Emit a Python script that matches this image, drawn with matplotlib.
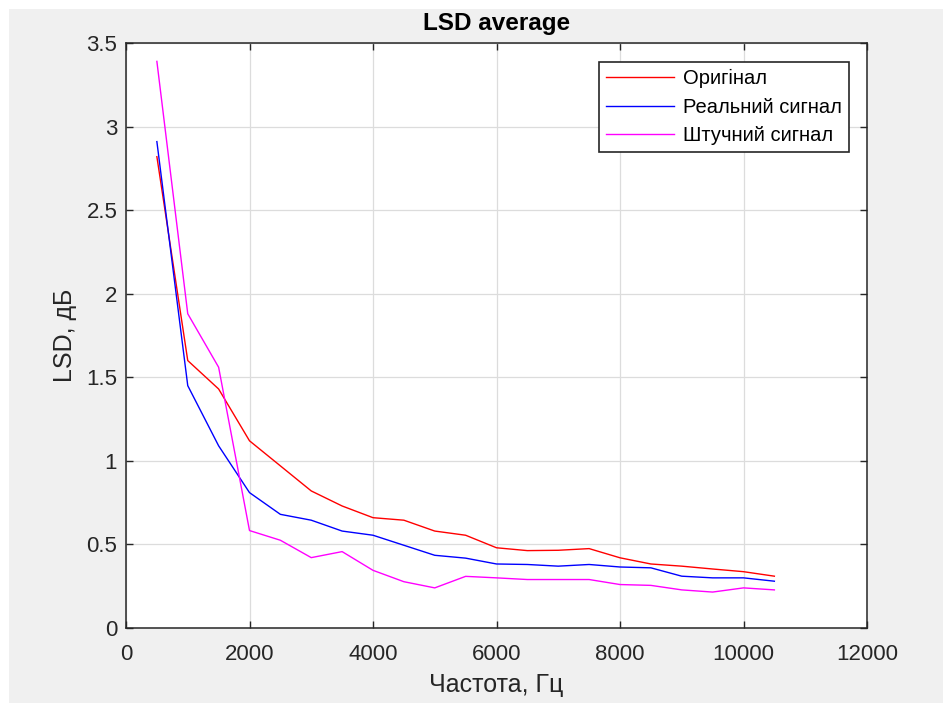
import matplotlib
matplotlib.use("Agg")
import matplotlib.pyplot as plt
from matplotlib.patches import Rectangle

plt.rcParams['font.family'] = ['Liberation Sans', 'DejaVu Sans']

# Frequency grid, Hz
freq = [500, 1000, 1500, 2000, 2500, 3000, 3500, 4000, 4500, 5000, 5500,
        6000, 6500, 7000, 7500, 8000, 8500, 9000, 9500, 10000, 10500]

# Average LSD, dB
lsd_original = [2.82, 1.60, 1.43, 1.12, 0.97, 0.82, 0.73, 0.66, 0.645, 0.58, 0.555,
                0.48, 0.463, 0.465, 0.475, 0.42, 0.383, 0.37, 0.353, 0.337, 0.31]
lsd_real = [2.91, 1.45, 1.09, 0.81, 0.68, 0.645, 0.58, 0.555, 0.495, 0.435, 0.418,
            0.383, 0.38, 0.37, 0.38, 0.365, 0.36, 0.31, 0.30, 0.30, 0.28]
lsd_synthetic = [3.39, 1.88, 1.56, 0.583, 0.525, 0.421, 0.457, 0.345, 0.277, 0.24, 0.309,
                 0.30, 0.29, 0.29, 0.29, 0.26, 0.255, 0.228, 0.215, 0.24, 0.228]

series_labels = ['Оригінал', 'Реальний сигнал', 'Штучний сигнал']
x_ticks = [0, 2000, 4000, 6000, 8000, 10000, 12000]
y_ticks = [0, 0.5, 1, 1.5, 2, 2.5, 3, 3.5]

W, H = 943, 703
fig = plt.figure(figsize=(W / 100, H / 100), dpi=100, facecolor='white')
# grey window background with a thin white strip on the left and top
fig.patches.append(Rectangle((9 / W, 0), 1, 1 - 9 / H, transform=fig.transFigure,
                             facecolor='#f0f0f0', edgecolor='none', zorder=-10))

ax_l, ax_r, ax_t, ax_b = 126, 867, 43, 628
ax = fig.add_axes([ax_l / W, 1 - ax_b / H, (ax_r - ax_l) / W, (ax_b - ax_t) / H])
ax.set_facecolor('white')

ax.plot(freq, lsd_original, color='#ff0000', lw=1.0, label=series_labels[0])
ax.plot(freq, lsd_real, color='#0000ff', lw=1.0, label=series_labels[1])
ax.plot(freq, lsd_synthetic, color='#ff00ff', lw=1.0, label=series_labels[2])

ax.set_xlim(0, 12000)
ax.set_ylim(0, 3.5)
ax.set_xticks(x_ticks)
ax.set_xticklabels([str(v) for v in x_ticks])
ax.set_yticks(y_ticks)
ax.set_yticklabels(['0', '0.5', '1', '1.5', '2', '2.5', '3', '3.5'])

ax.grid(True, color='#dcdcdc', lw=0.9)
ax.set_axisbelow(True)
ax.tick_params(direction='in', top=True, right=True, length=5, width=1,
               color='#262626', labelcolor='#262626', labelsize=16)
ax.tick_params(axis='x', pad=11.5)
ax.tick_params(axis='y', pad=6.3)
for s in ax.spines.values():
    s.set_color('#262626')
    s.set_linewidth(1.1)

ax.set_title('LSD average', fontsize=17.5, fontweight='bold', color='black', pad=9.4)
ax.set_xlabel('Частота, Гц', fontsize=18, color='#262626')
ax.set_ylabel('LSD, дБ', fontsize=18, color='#262626')
axw, axh = ax_r - ax_l, ax_b - ax_t
ax.xaxis.set_label_coords(0.5, -(673 - ax_b) / axh)
ax.yaxis.set_label_coords(-(ax_l - 77) / axw, 0.5)

leg = ax.legend(loc='upper right',
                bbox_to_anchor=((849 - ax_l) / axw, 1 - (62 - ax_t) / axh),
                fontsize=14.5, frameon=True, fancybox=False, framealpha=1,
                edgecolor='#262626', handlelength=3.4, handletextpad=0.42,
                borderpad=0.36, labelspacing=0.47, borderaxespad=0)
leg.get_frame().set_linewidth(1.2)

fig.savefig('out.png', dpi=100, facecolor=fig.get_facecolor())
